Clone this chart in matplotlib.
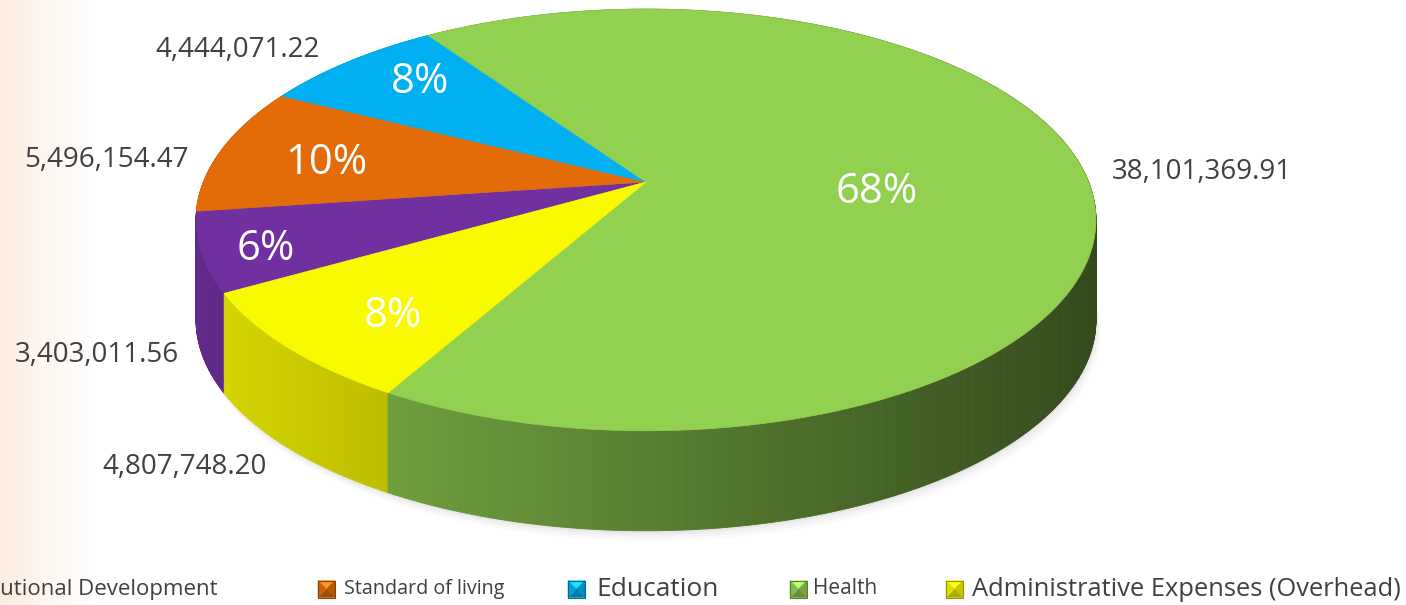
import numpy as np
import matplotlib
matplotlib.use("Agg")
import matplotlib.pyplot as plt
from matplotlib.patches import Polygon
from matplotlib.colors import to_rgb

plt.rcParams['font.family'] = ['Open Sans', 'DejaVu Sans']

# data
categories = ["Institutional Development", "Standard of living", "Education",
              "Health", "Administrative Expenses (Overhead)"]
values = [3403011.56, 5496154.47, 4444071.22, 38101369.91, 4807748.20]
value_labels = ["3,403,011.56", "5,496,154.47", "4,444,071.22",
                "38,101,369.91", "4,807,748.20"]
pct_labels = ["6%", "10%", "8%", "68%", "8%"]
top_colors = ["#7030a0", "#e36c09", "#00b0f0", "#92d050", "#f9f900"]

# layout of the 3d pie (pixel space)
CX, CY = 646, 182      # apex of the pie on screen
A, B, K = 442.6, 204, 0.18
DEPTH = 100
START = 240.2          # angle of first slice, clockwise from 12 o'clock


def proj(X, Y, dz=0.0):
    w = 1 - K * Y
    return CX + A * X / w, CY + B * Y / w + dz


def disk(theta_deg, r=1.0):
    t = np.radians(theta_deg)
    return r * np.sin(t), -r * np.cos(t)


def shade(x):
    return np.clip(0.85 - (x - 230) * 0.00057, 0.3, 1)


fig = plt.figure(figsize=(14.06, 6.05), dpi=100)
ax = fig.add_axes([0, 0, 1, 1])
ax.set_xlim(0, 1406)
ax.set_ylim(605, 0)
ax.axis("off")

# faint peach band on the left
grad = np.linspace(0, 1, 200)
img = np.ones((2, 200, 3))
peach = np.array(to_rgb("#fcede0"))
for i in range(200):
    img[:, i, :] = peach + (1 - peach) * grad[i] ** 0.9
ax.imshow(img, extent=[0, 95, 605, 0], aspect="auto", zorder=0)

total = sum(values)
fracs = [v / total for v in values]
bounds = [START]
for f in fracs:
    bounds.append(bounds[-1] + 360 * f)

# soft shadow under the pie
th = np.linspace(0, 360, 400)
for g, a in [(10, 0.03), (7, 0.04), (4, 0.05), (2, 0.06)]:
    X, Y = disk(th, 1.0)
    xs, ys = proj(X, Y, DEPTH + g)
    ax.fill(xs + g * 0.5, ys, color="#707070", alpha=a, lw=0, zorder=1)

# side strips, back to front
strips = []
for i in range(len(values)):
    t = np.linspace(bounds[i], bounds[i + 1], max(4, int(360 * fracs[i] * 3)))
    for a0, a1 in zip(t[:-1], t[1:]):
        X0, Y0 = disk(a0)
        X1, Y1 = disk(a1)
        x0, y0 = proj(X0, Y0)
        x1, y1 = proj(X1, Y1)
        pts = [(x0, y0), (x1, y1), (x1, y1 + DEPTH), (x0, y0 + DEPTH)]
        strips.append(((Y0 + Y1) / 2, pts, i, (x0 + x1) / 2))
strips.sort(key=lambda s: s[0])
for depth, pts, i, xm in strips:
    c = np.array(to_rgb(top_colors[i])) * shade(xm)
    ax.add_patch(Polygon(pts, closed=True, facecolor=c, edgecolor=c,
                         lw=0.6, zorder=2))

# top faces
for i in range(len(values)):
    t = np.linspace(bounds[i], bounds[i + 1], 200)
    X, Y = disk(t)
    xs, ys = proj(X, Y)
    pts = [(CX, CY)] + list(zip(xs, ys))
    ax.add_patch(Polygon(pts, closed=True, facecolor=top_colors[i],
                         edgecolor=top_colors[i], lw=0.5, zorder=3))

# percentage labels
pct_pos = [(266, 249), (326, 163), (420, 82), (877, 192), (393, 316)]
for s, (x, y) in zip(pct_labels, pct_pos):
    ax.text(x, y, s, color="white", fontsize=30,
            ha="center", va="center", zorder=5)

# value labels
val_pos = [(97, 355), (106, 160), (238, 50), (1202, 172), (185, 467)]
for s, (x, y) in zip(value_labels, val_pos):
    ax.text(x, y, s, color="#404040", fontsize=20, ha="center",
            va="center", zorder=5)

# legend (bevelled square markers)
leg_y = 589
leg_marker_x = [-60, 318, 568, 790, 946]
leg_text_x = [218, 344, 596, 813, 972]
leg_sizes = [16, 14.2, 19, 15, 18.4]
m = 17
for i in range(len(categories)):
    c = np.array(to_rgb(top_colors[i]))
    x0, y0 = leg_marker_x[i], leg_y - m / 2
    mid = (x0 + m / 2, y0 + m / 2)
    tl, tr, br, bl = (x0, y0), (x0 + m, y0), (x0 + m, y0 + m), (x0, y0 + m)
    faces = [([tl, tr, mid], np.clip(c * 1.15 + 0.1, 0, 1)),
             ([tr, br, mid], c * 0.8),
             ([br, bl, mid], c * 0.7),
             ([bl, tl, mid], c * 0.9)]
    for pts, col in faces:
        ax.add_patch(Polygon(pts, closed=True, facecolor=col, edgecolor=col,
                             lw=0.3, zorder=5))
    ax.add_patch(Polygon([tl, tr, br, bl], closed=True, fill=False,
                         edgecolor=c * 0.6, lw=0.8, zorder=6))
    ha = "right" if i == 0 else "left"
    ax.text(leg_text_x[i], leg_y, categories[i], color="#404040",
            fontsize=leg_sizes[i], ha=ha, va="center", zorder=5)

fig.savefig("out.png", dpi=100)
